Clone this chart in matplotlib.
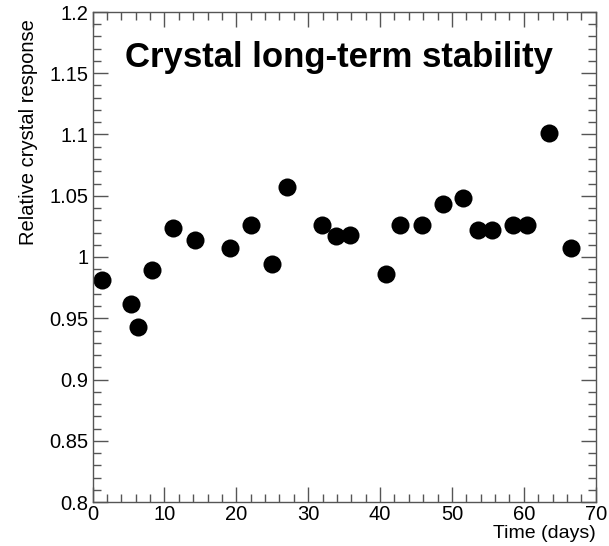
import matplotlib
matplotlib.use("Agg")
import matplotlib.pyplot as plt
from matplotlib.ticker import MultipleLocator, FuncFormatter

plt.rcParams['font.family'] = ['Liberation Sans', 'DejaVu Sans']

days = [1.3, 5.3, 6.3, 8.3, 11.2, 14.2, 19.1, 22.1, 25.0, 27.0, 31.9, 33.9,
        35.8, 40.8, 42.8, 45.8, 48.7, 51.6, 53.6, 55.6, 58.5, 60.5, 63.5, 66.5]
response = [0.981, 0.962, 0.943, 0.989, 1.024, 1.014, 1.007, 1.026, 0.994, 1.057, 1.026, 1.017,
            1.018, 0.986, 1.026, 1.026, 1.043, 1.048, 1.022, 1.022, 1.026, 1.026, 1.101, 1.007]

title = "Crystal long-term stability"
xlabel = "Time (days)"
ylabel = "Relative crystal response"

fig = plt.figure(figsize=(6.09, 5.46), dpi=100)
ax = fig.add_axes([92.5/609, 1 - 502/546, (595.7 - 92.5)/609, (502 - 12)/546])

ax.plot(days, response, 'o', color='black', markersize=13, markeredgewidth=0)

ax.set_xlim(0, 70)
ax.set_ylim(0.8, 1.2)

ax.xaxis.set_major_locator(MultipleLocator(10))
ax.xaxis.set_minor_locator(MultipleLocator(2))
ax.yaxis.set_major_locator(MultipleLocator(0.05))
ax.yaxis.set_minor_locator(MultipleLocator(0.01))

def yfmt(v, pos):
    s = f"{v:.2f}".rstrip('0').rstrip('.')
    return s
ax.yaxis.set_major_formatter(FuncFormatter(yfmt))

tc = '#555555'
for sp in ax.spines.values():
    sp.set_color(tc)
    sp.set_linewidth(1.0)

ax.tick_params(which='both', direction='in', top=True, right=True, color=tc,
               width=1.0, labelsize=14.5, labelcolor='black')
ax.tick_params(which='major', length=11, pad=3)
ax.tick_params(which='minor', length=5.5)
ax.tick_params(axis='x', which='major', pad=2.5)

ax.set_xlabel(xlabel, fontsize=14, loc='right')
ax.xaxis.set_label_coords(1.0, -0.0735)
ax.xaxis.label.set_va('baseline')
ax.set_ylabel(ylabel, fontsize=14.5, loc='top')
ax.yaxis.set_label_coords(-0.108, 0.985)

ax.text(0.0646, 0.888, title, transform=ax.transAxes, fontsize=25, fontweight='bold',
        ha='left', va='baseline')

fig.savefig("out.png", dpi=100)
